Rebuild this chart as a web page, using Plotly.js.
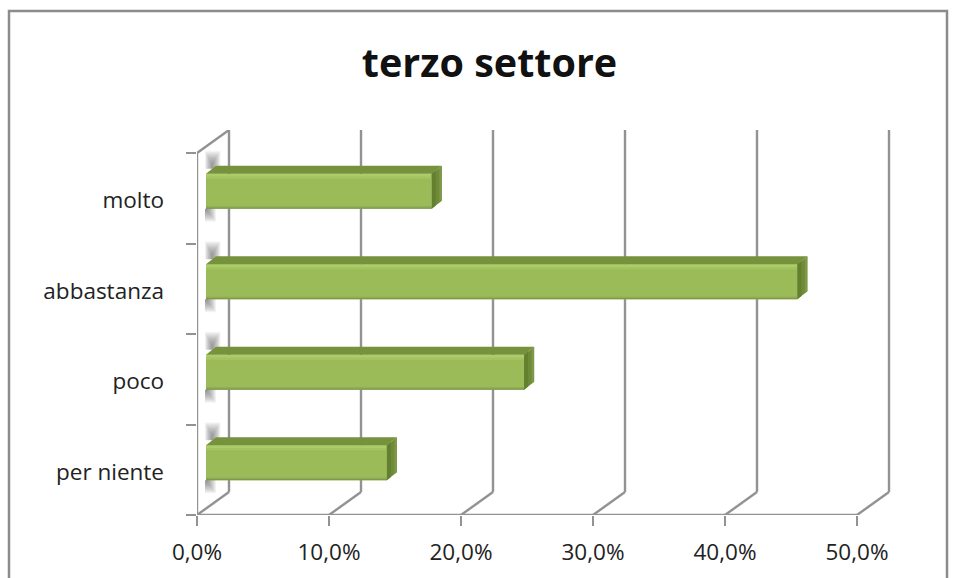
<!DOCTYPE html>
<html>
<head>
<meta charset="utf-8">
<script src="https://cdn.plot.ly/plotly-3.0.1.min.js"></script>
<style>html,body{margin:0;padding:0;background:#fff}#c{width:957px;height:578px}</style>
</head>
<body>
<div id="c"></div>
<script>
const categories = ["per niente", "poco", "abbastanza", "molto"];
const values = [13.7, 24.1, 44.8, 17.1];
const xTicks = [0, 10, 20, 30, 40, 50];
const xTickLabels = ["0,0%", "10,0%", "20,0%", "30,0%", "40,0%", "50,0%"];
const chartTitle = "terzo settore";

const FONT = "'Open Sans', sans-serif";
const TEXT = "#222222";
const GRID = "#929292";
const W = 957, H = 578;
const L = 197, R = 892, T = 130, B = 515;
const pxX = 13.2, pxY = 90.5;
const X = p => p / pxX;
const Y = p => p / pxY;
const bands = categories.map((_, i) => i);
const centers = bands.map(i => i + 0.5);

// wall and floor geometry, in axis units
const depthX = X(32), depthY = Y(23), topY = (B - T) / pxY;
const nBands = categories.length;
const shapes = [];
const seg = (x0, y0, x1, y1, width = 2.4, color = GRID) => shapes.push({
  type: "line", xref: "x", yref: "y", layer: "below",
  x0, y0, x1, y1, line: {color, width}
});
xTicks.forEach(t => {
  seg(t, 0, t + depthX, depthY);
  seg(t + depthX, depthY, t + depthX, topY);
});
seg(0, nBands, depthX, topY);
seg(0, 0, 0, nBands);
seg(0, 0, xTicks[xTicks.length - 1], 0);
// outer frame
const fx = p => (p - L) / (R - L), fy = p => (B - p) / (B - T);
shapes.push({type: "rect", xref: "paper", yref: "paper", layer: "below",
  x0: fx(9), x1: fx(947), y0: fy(590), y1: fy(11), line: {color: "#8c8c8c", width: 2.5}, fillcolor: "rgba(0,0,0,0)"});

// bar geometry
const offFrontX = X(9), offFrontY = Y(7);
const frontH = Y(35), depX = X(10), depY = Y(8);
const frontBottom = centers.map(c => c + offFrontY - frontH / 2);
const traces = [];
const poly = (xs, ys, color) => traces.push({
  type: "scatter", mode: "lines", x: [...xs, xs[0]], y: [...ys, ys[0]],
  fill: "toself", fillcolor: color, line: {width: 0, color}, hoverinfo: "skip", showlegend: false
});
const strip = (from, h, color) => traces.push({
  type: "bar", orientation: "h", x: values, base: values.map(() => offFrontX),
  y: frontBottom.map(b => b + from + h / 2), width: h,
  marker: {color, line: {width: 0}}, hoverinfo: "skip", showlegend: false
});

// front face, lit along the top edge and shaded along the bottom
strip(0, frontH, "#9bbb59");
strip(frontH - Y(3), Y(3), "#abcc68");
strip(frontH - Y(5), Y(2), "#a3c45f");
strip(0, Y(1.5), "#7f9a4c");
strip(Y(1.5), Y(1), "#8dab52");

// soft shadow on the wall, above and below each bar
frontBottom.forEach(b => {
  const topBack = b + frontH + depY;
  for (let k = 0; k < 14; k++) {
    const a = "rgba(70,70,70,0.055)";
    const x0 = offFrontX + X(-1 + k * 0.55), x1 = offFrontX + X(14.5 - k * 0.65);
    const up = Y(15 - 1.05 * k);
    poly([x0, x1, x1, x0], [topBack - Y(3), topBack - Y(3), topBack + up, topBack + up], a);
    const x2 = offFrontX + X(10 - k * 0.7);
    const down = Y(13 - 0.9 * k);
    poly([offFrontX - X(1), x2, x2, offFrontX - X(1)], [b, b, b - down, b - down], a);
  }
});

// top and end faces
values.forEach((v, i) => {
  const b = frontBottom[i], t = b + frontH, x0 = offFrontX, x1 = x0 + v;
  poly([x0, x1, x1 + depX, x0 + depX], [t, t, t + depY, t + depY], "#76923c");
  poly([x1, x1 + depX, x1 + depX, x1], [t, t + depY, b + depY, b], "#6f8b39");
  poly([x1, x1 + depX * 0.4, x1 + depX * 0.4, x1], [t, t + depY * 0.4, b + depY * 0.4, b], "#63802f");
  poly([x1 + depX * 0.75, x1 + depX, x1 + depX, x1 + depX * 0.75], [t + depY * 0.75, t + depY, b + depY, b + depY * 0.75], "#7d9946");
});

const layout = {
  width: W, height: H,
  margin: {l: L, r: W - R, t: T, b: H - B, pad: 0},
  paper_bgcolor: "#fff", plot_bgcolor: "rgba(0,0,0,0)",
  barmode: "overlay", showlegend: false, hovermode: false,
  title: {text: "<b>" + chartTitle + "</b>", font: {family: FONT, size: 39.5, color: "#111"},
    x: 489.5 / W, xanchor: "center", y: 1 - 63 / H, yanchor: "middle"},
  xaxis: {range: [0, (R - L) / pxX], tickmode: "array", tickvals: xTicks, ticktext: xTickLabels,
    ticks: "outside", ticklen: 10, tickwidth: 2, tickcolor: GRID, showgrid: false, zeroline: false,
    showline: false, ticklabelstandoff: 7, tickfont: {family: FONT, size: 22.5, color: TEXT}, fixedrange: true},
  yaxis: {range: [0, topY], tickmode: "array", tickvals: centers.map(c => c - Y(2)), ticktext: categories,
    ticks: "", ticklen: 0, showgrid: false, zeroline: false, showline: false, ticklabelstandoff: 32,
    tickfont: {family: FONT, size: 22.5, color: TEXT}, fixedrange: true,
    minor: {tickmode: "array", tickvals: [...bands, nBands], ticks: "outside", ticklen: 10, tickwidth: 2, tickcolor: GRID, showgrid: false}},
  shapes
};
Plotly.newPlot("c", traces, layout, {displayModeBar: false, staticPlot: true});
</script>
</body>
</html>
